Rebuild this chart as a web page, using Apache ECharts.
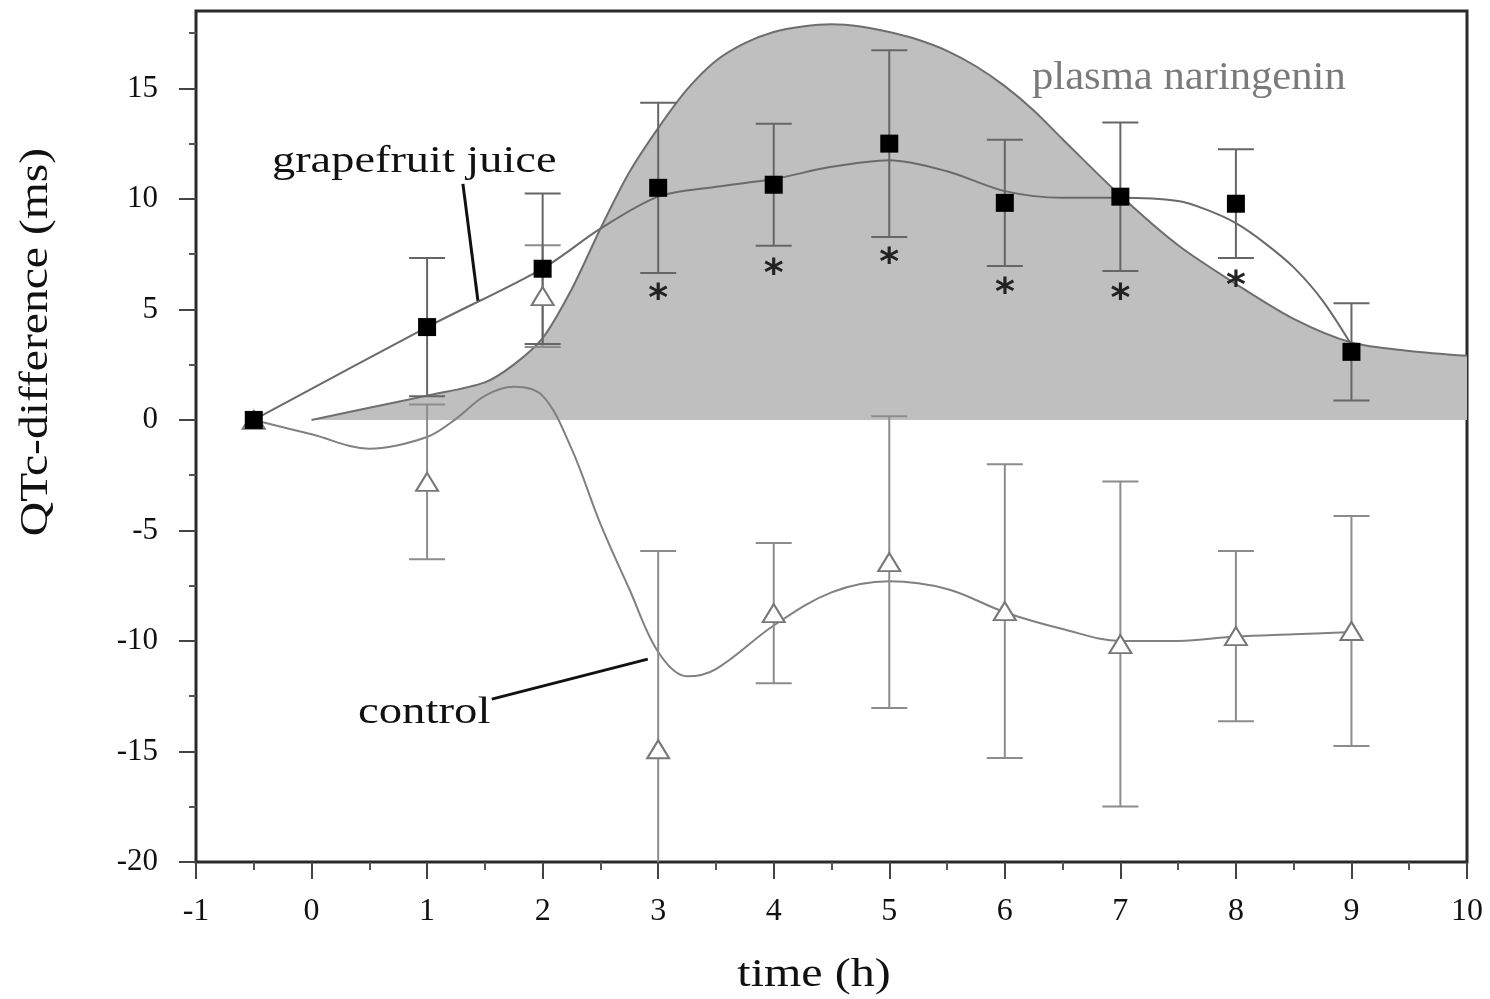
<!DOCTYPE html>
<html><head><meta charset="utf-8">
<script src="https://cdn.jsdelivr.net/npm/echarts@6/dist/echarts.min.js"></script>
<style>html,body{margin:0;padding:0;background:#fff}#c{width:1490px;height:999px}</style>
</head><body><div id="c"></div>
<script>
// ---- data ----
const timeH = [-0.5, 1, 2, 3, 4, 5, 6, 7, 8, 9];
const grapeMean = [0, 4.2, 6.84, 10.5, 10.64, 12.5, 9.82, 10.1, 9.78, 3.08];
const grapeSE   = [0, 3.13, 3.4, 3.85, 2.76, 4.22, 2.86, 3.36, 2.46, 2.2];
const ctrlMean  = [0, -2.8, 5.6, -14.9, -8.74, -6.43, -8.65, -10.14, -9.78, -9.55];
const ctrlSE    = [0, 3.5, 2.3, 8.97, 3.17, 6.6, 6.65, 7.35, 3.85, 5.2];

// fitted curves
const grapeCurve = [[-0.5,0],[1,4.2],[2,6.85],[2.5,8.65],[3,10.1],[3.5,10.55],[4,10.9],[4.5,11.45],[5,11.75],[5.5,11.25],[6,10.35],[6.5,10.05],[7,10.05],[7.5,9.9],[7.75,9.5],[8,8.9],[8.25,8.0],[8.5,6.9],[8.75,5.4],[9,3.4]];
const ctrlCurve = [[-0.5,0],[0,-0.65],[0.5,-1.3],[1,-0.77],[1.25,0.05],[1.5,1.09],[1.75,1.5],[2,1.09],[2.25,-1.3],[2.5,-4.7],[2.75,-7.65],[3,-10.5],[3.25,-11.6],[3.5,-11.27],[4,-9.3],[4.5,-7.8],[5,-7.3],[5.5,-7.65],[6,-8.7],[6.5,-9.46],[7,-10.0],[7.5,-10.0],[8,-9.8],[8.5,-9.7],[9,-9.6]];
const naringenin = [[0,0],[0.5,0.55],[1,1.1],[1.5,1.7],[1.75,2.5],[2,3.7],[2.25,5.9],[2.5,8.65],[2.75,11.2],[3,13.2],[3.25,14.95],[3.5,16.25],[3.75,17.05],[4,17.55],[4.25,17.8],[4.5,17.9],[4.75,17.8],[5,17.55],[5.25,17.2],[5.5,16.7],[5.75,16.0],[6,15.1],[6.25,14.0],[6.5,12.7],[7,10.15],[7.5,7.9],[8,6.15],[8.5,4.57],[9,3.5],[9.5,3.12],[10,2.9]];

// significance markers
const starX = [3, 4, 5, 6, 7, 8];
const starY = [5.84, 6.97, 7.47, 6.11, 5.84, 6.43];

// callout leader lines
const calloutGrape = [[1.31,10.68],[1.44,5.39]];
const calloutCtrl  = [[1.56,-12.63],[2.91,-10.82]];

// axis ticks
const yTicks = [-20,-15,-10,-5,0,5,10,15];
const yMinorTicks = [-17.5,-12.5,-7.5,-2.5,2.5,7.5,12.5,17.5];

const Y_MIN = -20, Y_MAX = 18.5;
const FONT = '"Liberation Serif", "DejaVu Serif", serif';

function errRender(color){
  return function(params, api){
    const x = api.value(0), m = api.value(1), s = api.value(2);
    if (!s) return null;
    const lo = m - s, hi = m + s;
    const pHi = api.coord([x, hi]);
    const pLo = api.coord([x, Math.max(lo, Y_MIN)]);
    const hw = 18;
    const style = {stroke: color, lineWidth: 2};
    const children = [
      {type:'line', shape:{x1:pHi[0], y1:pHi[1], x2:pLo[0], y2:pLo[1]}, style},
      {type:'line', shape:{x1:pHi[0]-hw, y1:pHi[1], x2:pHi[0]+hw, y2:pHi[1]}, style}
    ];
    if (lo >= Y_MIN) children.push({type:'line', shape:{x1:pLo[0]-hw, y1:pLo[1], x2:pLo[0]+hw, y2:pLo[1]}, style});
    return {type:'group', children};
  };
}

const chart = echarts.init(document.getElementById('c'), null, {renderer:'canvas'});
chart.setOption({
  animation: false,
  backgroundColor: '#fff',
  grid: {left:196, top:11, right:23, bottom:137, show:true, borderColor:'#2a2a2a', borderWidth:3, backgroundColor:'transparent'},
  xAxis: {
    type:'value', min:-1, max:10, interval:1,
    axisLine:{show:false, onZero:false},
    axisTick:{show:true, inside:false, length:17, lineStyle:{color:'#444', width:2}},
    minorTick:{show:true, splitNumber:2, length:8, lineStyle:{color:'#555', width:2}},
    splitLine:{show:false}, minorSplitLine:{show:false},
    axisLabel:{fontFamily:FONT, fontSize:32, color:'#111', margin:34}
  },
  yAxis: [{
    type:'value', min:Y_MIN, max:Y_MAX,
    axisLine:{show:false, onZero:false},
    axisTick:{show:true, inside:false, length:17, customValues:yTicks, lineStyle:{color:'#444', width:2}},
    splitLine:{show:false},
    axisLabel:{fontFamily:FONT, fontSize:31, color:'#111', margin:38, customValues:yTicks}
  },{
    type:'value', min:Y_MIN, max:Y_MAX, position:'left',
    axisLine:{show:false, onZero:false},
    axisTick:{show:true, inside:false, length:7, customValues:yMinorTicks, lineStyle:{color:'#555', width:2}},
    splitLine:{show:false},
    axisLabel:{show:false}
  }],
  graphic: [
    {type:'text', x:272, y:162, scaleX:1.22, style:{text:'grapefruit juice', font:'38px '+FONT, fill:'#111', textVerticalAlign:'middle'}, z:100},
    {type:'text', x:358, y:713, scaleX:1.23, style:{text:'control', font:'38px '+FONT, fill:'#111', textVerticalAlign:'middle'}, z:100},
    {type:'text', x:1032, y:78, scaleX:1.04, style:{text:'plasma naringenin', font:'41px '+FONT, fill:'#7a7a7a', textVerticalAlign:'middle'}, z:100},
    {type:'text', x:814, y:975, scaleX:1.2, style:{text:'time (h)', font:'40px '+FONT, fill:'#111', textAlign:'center', textVerticalAlign:'middle'}, z:100},
    {type:'text', x:36, y:342, rotation:Math.PI/2, scaleX:1.19, style:{text:'QTc-difference (ms)', font:'40px '+FONT, fill:'#111', textAlign:'center', textVerticalAlign:'middle'}, z:100}
  ],
  series: [
    {name:'plasma naringenin', type:'line', data:naringenin, smooth:0.3, symbol:'none', z:1,
     lineStyle:{color:'#6e6e6e', width:2}, areaStyle:{color:'#bfbfbf', opacity:1, origin:0}},
    {name:'control fit', type:'line', data:ctrlCurve, smooth:0.35, symbol:'none', z:2,
     lineStyle:{color:'#808080', width:2}},
    {name:'grapefruit fit', type:'line', data:grapeCurve, smooth:0.3, symbol:'none', z:2,
     lineStyle:{color:'#6a6a6a', width:2}},
    {name:'control err', type:'custom', z:3, renderItem:errRender('#8c8c8c'),
     encode:{x:0, y:1}, data:timeH.map((x,i)=>[x, ctrlMean[i], ctrlSE[i]])},
    {name:'grapefruit err', type:'custom', z:3, renderItem:errRender('#666'),
     encode:{x:0, y:1}, data:timeH.map((x,i)=>[x, grapeMean[i], grapeSE[i]])},
    {name:'callout g', type:'line', data:calloutGrape, symbol:'none', z:4, lineStyle:{color:'#111', width:3}},
    {name:'callout c', type:'line', data:calloutCtrl, symbol:'none', z:4, lineStyle:{color:'#111', width:3}},
    {name:'control', type:'scatter', z:5, symbol:'triangle', symbolSize:[22,18],
     itemStyle:{color:'#fff', borderColor:'#777', borderWidth:2, opacity:1},
     data:timeH.map((x,i)=>[x, ctrlMean[i]])},
    {name:'grapefruit juice', type:'scatter', z:6, symbol:'rect', symbolSize:18,
     itemStyle:{color:'#000', opacity:1},
     data:timeH.map((x,i)=>[x, grapeMean[i]])},
    {name:'stars', type:'custom', z:7, encode:{x:0, y:1},
     data:starX.map((x,i)=>[x, starY[i]]),
     renderItem:function(params, api){
       const p = api.coord([api.value(0), api.value(1)]);
       return {type:'text', x:p[0], y:p[1]+9, style:{text:'*', font:'bold 38px "DejaVu Sans", sans-serif', fill:'#222', textAlign:'center', textVerticalAlign:'middle'}};
     }}
  ]
});
</script>
</body></html>
